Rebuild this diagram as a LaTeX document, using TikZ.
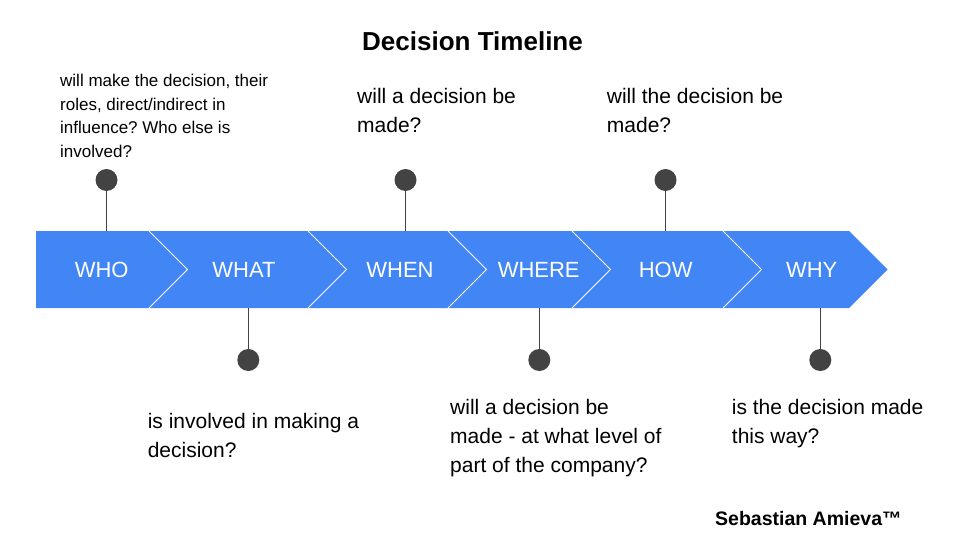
\documentclass[tikz,border=0pt]{standalone}
\usepackage{fontspec}
\setmainfont{Liberation Sans}
\frenchspacing
\definecolor{bandblue}{HTML}{4285F4}
\definecolor{dotgray}{HTML}{434343}
\begin{document}
\begin{tikzpicture}[x=1pt,y=-1pt,
  body/.style={align=left, anchor=north west, inner sep=0pt, text=black, font=\fontsize{21}{29}\selectfont},
  smallbody/.style={align=left, anchor=north west, inner sep=0pt, text=black, font=\fontsize{17}{23.5}\selectfont},
  lbl/.style={text=white, anchor=base, inner sep=0pt, font=\fontsize{22}{26}\selectfont},
  dotnode/.style={circle, fill=dotgray, minimum size=22pt, inner sep=0pt},
  stem/.style={draw=dotgray, line width=1.3pt},
  sepline/.style={draw=white, line width=0.9pt},
  titlefont/.style={anchor=base, inner sep=0pt, text=black, font=\fontsize{26}{30}\selectfont\bfseries}
]
\useasboundingbox[fill=white] (0,0) rectangle (960,540);

% title
\node[titlefont] (title) at (472.5,51) {Decision Timeline};

% band
\fill[bandblue] (36,231) -- (849,231) -- (887.5,269.5) -- (849,308) -- (36,308) -- cycle;
\foreach \sx in {149,308,448,572,723}{
  \draw[sepline] (\sx,231) -- ++(38.5,38.5) -- ++(-38.5,38.5);
}

% labels
\node[lbl] (who)   at (101.7,277) {WHO};
\node[lbl] (what)  at (244,277)   {WHAT};
\node[lbl] (when)  at (400,277)   {WHEN};
\node[lbl] (where) at (538.7,277) {WHERE};
\node[lbl] (how)   at (665.7,277) {HOW};
\node[lbl] (why)   at (811.7,277) {WHY};

% stem end points on band edge
\coordinate (whoE)   at (106.5,231);
\coordinate (whenE)  at (405.5,231);
\coordinate (howE)   at (665.5,231);
\coordinate (whatE)  at (248.3,308);
\coordinate (whereE) at (539.3,308);
\coordinate (whyE)   at (820.3,308);

% dots
\node[dotnode] (whoD)   at (106.5,180) {};
\node[dotnode] (whenD)  at (405.5,180) {};
\node[dotnode] (howD)   at (665.5,180) {};
\node[dotnode] (whatD)  at (248.3,360) {};
\node[dotnode] (whereD) at (539.3,360) {};
\node[dotnode] (whyD)   at (820.3,360) {};

% stems
\draw[stem] (whoD) -- (whoE);
\draw[stem] (whenD) -- (whenE);
\draw[stem] (howD) -- (howE);
\draw[stem] (whatD) -- (whatE);
\draw[stem] (whereD) -- (whereE);
\draw[stem] (whyD) -- (whyE);

% texts
\node[smallbody] (whoT) at (60,74.3) {will make the decision, their\\roles, direct/indirect in\\influence? Who else is\\involved?};
\node[body] (whenT)  at (357,87.7)  {will a decision be\\made?};
\node[body] (howT)   at (606.7,87.7) {will the decision be\\made?};
\node[body] (whatT)  at (147.6,413) {is involved in making a\\decision?};
\node[body] (whereT) at (450,399)   {will a decision be\\made - at what level of\\part of the company?};
\node[body] (whyT)   at (731.7,399) {is the decision made\\this way?};

% signature
\node[anchor=base west, inner sep=0pt, font=\fontsize{19.5}{24}\selectfont\bfseries] (sig) at (715,525) {Sebastian Amieva™};
\end{tikzpicture}
\end{document}
